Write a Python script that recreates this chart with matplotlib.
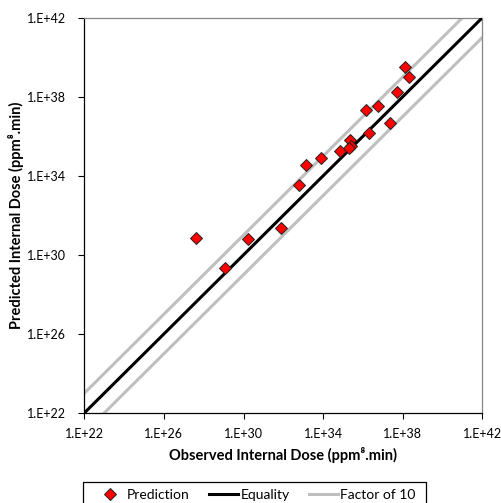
import numpy as np
import matplotlib
matplotlib.use("Agg")
import matplotlib.pyplot as plt
from matplotlib.patches import Rectangle

plt.rcParams["font.family"] = ["Lato", "DejaVu Sans"]

# observed vs predicted internal dose (ppm^8.min)
observed = [4.0e27, 1.2e29, 1.6e30, 7.9e31, 5.8e32, 1.4e33, 7.6e33, 7.1e34, 2.1e35,
            2.5e35, 1.9e35, 2.0e36, 1.4e36, 5.9e36, 2.3e37, 5.0e37, 1.3e38, 2.1e38]
predicted = [6.9e30, 2.2e29, 6.5e30, 2.4e31, 3.6e33, 3.4e34, 8.3e34, 1.8e35, 6.5e35,
             3.2e35, 2.6e35, 1.5e36, 2.2e37, 3.5e37, 4.7e36, 1.7e38, 3.3e39, 1.0e39]

axis_min = 1e22
axis_max = 1e42
factor = 10.0
tick_vals = [1e22, 1e26, 1e30, 1e34, 1e38, 1e42]
tick_labels = ["1.E+22", "1.E+26", "1.E+30", "1.E+34", "1.E+38", "1.E+42"]

W, H = 502, 503
fig = plt.figure(figsize=(W / 100, H / 100), dpi=100)
ax = fig.add_axes([0.168, 0.179, 0.793, 0.786])

line_x = np.array([axis_min, axis_max])
ax.plot(line_x, line_x * factor, color="#BFBFBF", lw=2.2, label="Factor of 10", zorder=2)
ax.plot(line_x, line_x / factor, color="#BFBFBF", lw=2.2, zorder=2)
ax.plot(line_x, line_x, color="black", lw=2.2, label="Equality", zorder=3)
ax.plot(observed, predicted, ls="none", marker="D", ms=6.5, mfc="#FF0000",
        mec="#222222", mew=0.7, label="Prediction", zorder=4)

ax.set_xscale("log")
ax.set_yscale("log")
ax.set_xlim(axis_min, axis_max)
ax.set_ylim(axis_min, axis_max)
ax.set_xticks(tick_vals)
ax.set_xticklabels(tick_labels)
ax.set_yticks(tick_vals)
ax.set_yticklabels(tick_labels)
ax.minorticks_off()
ax.tick_params(axis="both", labelsize=9, length=4, width=0.8, color="black", pad=7)
ax.tick_params(axis="y", pad=9)

for side in ("top", "right"):
    ax.spines[side].set_color("#868686")
    ax.spines[side].set_linewidth(0.9)
for side in ("left", "bottom"):
    ax.spines[side].set_color("black")
    ax.spines[side].set_linewidth(0.9)

ax.set_xlabel("Observed Internal Dose (ppm\u2078.min)", fontsize=10.5, fontweight="bold", labelpad=5)
ax.set_ylabel("Predicted Internal Dose (ppm\u2078.min)", fontsize=10.5, fontweight="bold", labelpad=2)

# legend (frame drawn separately, it runs off the bottom edge like the original)
handles, labels = ax.get_legend_handles_labels()
order = [2, 1, 0]
leg = fig.legend([handles[i] for i in order], [labels[i] for i in order],
                 loc="center", bbox_to_anchor=(255.5 / W, 1 - 495 / H),
                 ncol=3, fontsize=10, frameon=False, handlelength=2.1,
                 handletextpad=0.15, columnspacing=1.4, borderpad=0, borderaxespad=0)
fig.patches.append(Rectangle((82.7 / W, -0.02), (426 - 82.7) / W, 0.02 + 1 - 481.7 / H,
                             transform=fig.transFigure, fill=False, edgecolor="black",
                             lw=0.9, figure=fig))

fig.savefig("out.png", dpi=100)
